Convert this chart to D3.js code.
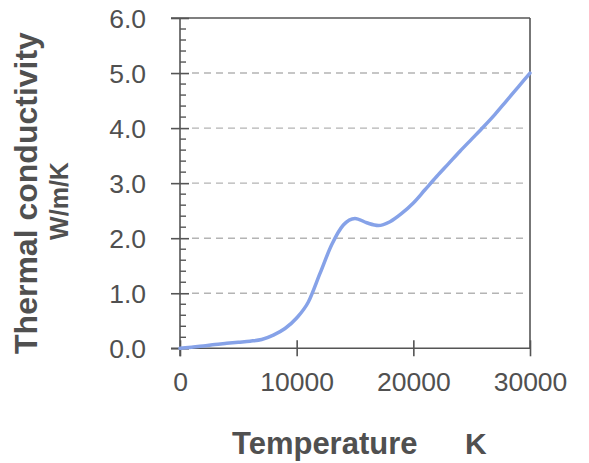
<!DOCTYPE html>
<html>
<head>
<meta charset="utf-8">
<script src="https://cdn.jsdelivr.net/npm/d3@7"></script>
<style>
  html, body { margin: 0; padding: 0; background: #fff; }
  svg { display: block; font-family: "Liberation Sans", Arial, sans-serif; }
</style>
</head>
<body>
<svg id="chart" width="589" height="463"></svg>
<script>
// Thermal conductivity vs temperature
const temperature = [0, 1000, 2000, 3000, 4000, 5000, 6000, 7000, 8000, 9000,
  10000, 11000, 12000, 13000, 14000, 15000, 16000, 17000, 18000, 19000,
  20000, 21000, 22000, 23000, 24000, 25000, 26000, 27000, 28000, 29000, 30000];
const conductivity = [0, 0.02, 0.04, 0.07, 0.09, 0.11, 0.13, 0.16, 0.24, 0.36,
  0.55, 0.84, 1.36, 1.88, 2.24, 2.36, 2.28, 2.23, 2.30, 2.45,
  2.64, 2.88, 3.12, 3.35, 3.58, 3.80, 4.02, 4.25, 4.50, 4.75, 5.00];

const xTicks = [0, 10000, 20000, 30000];
const yTicks = [0, 1, 2, 3, 4, 5, 6];
const yMinorStep = 0.2;

const svg = d3.select("#chart");
const plotLeft = 180, plotRight = 530, plotTop = 18, plotBottom = 348.3;

const x = d3.scaleLinear().domain([0, 30000]).range([plotLeft, plotRight]);
const y = d3.scaleLinear().domain([0, 6]).range([plotBottom, plotTop]);

const axisColor = "#555";
const textColor = "#505050";

// dashed horizontal grid lines
svg.append("g")
  .selectAll("line")
  .data(yTicks.filter(v => v > 0 && v < 6))
  .join("line")
  .attr("x1", plotLeft + 12).attr("x2", plotRight - 5)
  .attr("y1", d => y(d)).attr("y2", d => y(d))
  .attr("stroke", "#b4b4b4")
  .attr("stroke-width", 1.4)
  .attr("stroke-dasharray", "7,5");

// frame: top and right borders
svg.append("line")
  .attr("x1", plotLeft - 9).attr("x2", plotRight)
  .attr("y1", plotTop).attr("y2", plotTop)
  .attr("stroke", axisColor).attr("stroke-width", 1.6);
svg.append("line")
  .attr("x1", plotRight).attr("x2", plotRight)
  .attr("y1", plotTop).attr("y2", plotBottom)
  .attr("stroke", axisColor).attr("stroke-width", 1.6);

// y axis with crossing major ticks
const yAxis = d3.axisLeft(y)
  .tickValues(yTicks)
  .tickFormat(d3.format(".1f"))
  .tickSizeInner(0)
  .tickSizeOuter(0)
  .tickPadding(34);
const gy = svg.append("g").attr("transform", `translate(${plotLeft},0)`).call(yAxis);
gy.select(".domain").attr("stroke", axisColor).attr("stroke-width", 1.6)
  .attr("d", `M0,${plotTop}V${plotBottom + 8}`);
gy.selectAll(".tick line").attr("x1", -9).attr("x2", 9)
  .attr("stroke", axisColor).attr("stroke-width", 1.6);
gy.selectAll(".tick text")
  .attr("fill", textColor)
  .style("font-size", "26.5px")
  .attr("dy", "0.34em");

// y minor ticks
const minorVals = d3.range(0, 6 + 1e-9, yMinorStep)
  .filter(v => Math.abs(v - Math.round(v)) > 1e-6);
svg.append("g")
  .selectAll("line")
  .data(minorVals)
  .join("line")
  .attr("x1", plotLeft).attr("x2", plotLeft + 6)
  .attr("y1", d => y(d)).attr("y2", d => y(d))
  .attr("stroke", axisColor).attr("stroke-width", 1.4);

// x axis with crossing ticks
const xAxis = d3.axisBottom(x)
  .tickValues(xTicks)
  .tickFormat(d3.format("d"))
  .tickSizeInner(0)
  .tickSizeOuter(0)
  .tickPadding(24);
const gx = svg.append("g").attr("transform", `translate(0,${plotBottom})`).call(xAxis);
gx.select(".domain").attr("stroke", axisColor).attr("stroke-width", 1.6)
  .attr("d", `M${plotLeft - 9},0H${plotRight}`);
gx.selectAll(".tick line").attr("y1", -8).attr("y2", 8)
  .attr("stroke", axisColor).attr("stroke-width", 1.6);
gx.selectAll(".tick text")
  .attr("fill", textColor)
  .style("font-size", "26.5px")
  .attr("dy", "0.71em");

// data curve
const line = d3.line()
  .x((d, i) => x(temperature[i]))
  .y(d => y(d))
  .curve(d3.curveMonotoneX);
svg.append("path")
  .datum(conductivity)
  .attr("d", line)
  .attr("fill", "none")
  .attr("stroke", "#86a2e8")
  .attr("stroke-width", 3.5)
  .attr("stroke-linecap", "round");

// axis titles
svg.append("text")
  .attr("transform", "translate(37,193) rotate(-90)")
  .attr("text-anchor", "middle")
  .attr("fill", textColor)
  .style("font-size", "32px")
  .style("font-weight", "bold")
  .text("Thermal conductivity");
svg.append("text")
  .attr("transform", "translate(68,201) rotate(-90)")
  .attr("text-anchor", "middle")
  .attr("fill", textColor)
  .style("font-size", "25px")
  .style("font-weight", "bold")
  .text("W/m/K");

svg.append("text")
  .attr("x", 232).attr("y", 454)
  .attr("fill", textColor)
  .style("font-size", "31px")
  .style("font-weight", "bold")
  .text("Temperature");
svg.append("text")
  .attr("x", 465).attr("y", 454)
  .attr("fill", textColor)
  .style("font-size", "30px")
  .style("font-weight", "bold")
  .text("K");
</script>
</body>
</html>
